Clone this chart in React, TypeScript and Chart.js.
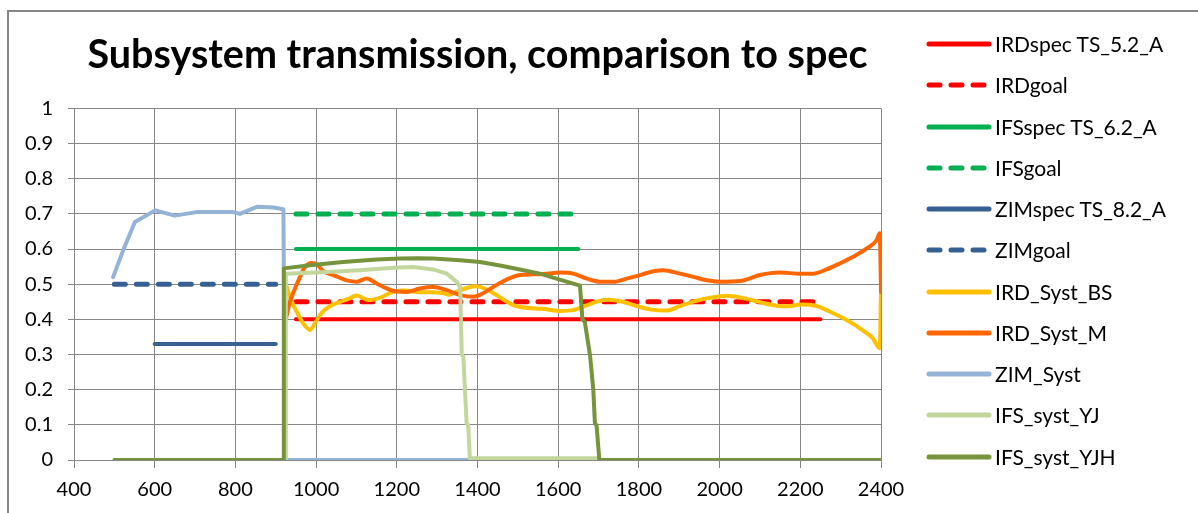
import React, { useEffect, useRef } from "react";
import { Chart, registerables } from "chart.js";
Chart.register(...registerables);

const chartTitle = "Subsystem transmission, comparison to spec";

const seriesNames = [
  "IRDspec TS_5.2_A",
  "IRDgoal",
  "IFSspec TS_6.2_A",
  "IFSgoal",
  "ZIMspec TS_8.2_A",
  "ZIMgoal",
  "IRD_Syst_BS",
  "IRD_Syst_M",
  "ZIM_Syst",
  "IFS_syst_YJ",
  "IFS_syst_YJH",
];

const xMin = 400;
const xMax = 2400;
const xStep = 200;
const yMin = 0;
const yMax = 1;
const yStep = 0.1;

const irdSpecX = [950, 2250];
const irdSpecY = [0.4, 0.4];
const irdGoalX = [950, 2250];
const irdGoalY = [0.45, 0.45];
const ifsSpecX = [950, 1650];
const ifsSpecY = [0.6, 0.6];
const ifsGoalX = [950, 1650];
const ifsGoalY = [0.7, 0.7];
const zimSpecX = [600, 900];
const zimSpecY = [0.33, 0.33];
const zimGoalX = [500, 900];
const zimGoalY = [0.5, 0.5];

const irdBsX = [925, 940, 955, 970, 985, 1000, 1015, 1035, 1060, 1080, 1100, 1130, 1160, 1190, 1220, 1250, 1280, 1310, 1330, 1355, 1375, 1395, 1420, 1440, 1465, 1490, 1520, 1560, 1604, 1640, 1670, 1700, 1725, 1760, 1800, 1836, 1869, 1900, 1940, 1980, 2018, 2060, 2100, 2140, 2170, 2200, 2240, 2275, 2315, 2355, 2380, 2397, 2400];
const irdBsY = [0.50, 0.45, 0.415, 0.385, 0.37, 0.395, 0.42, 0.438, 0.45, 0.458, 0.468, 0.455, 0.462, 0.478, 0.482, 0.478, 0.477, 0.476, 0.47, 0.482, 0.49, 0.494, 0.487, 0.474, 0.456, 0.44, 0.433, 0.43, 0.424, 0.427, 0.44, 0.452, 0.456, 0.45, 0.436, 0.427, 0.425, 0.437, 0.452, 0.462, 0.467, 0.46, 0.449, 0.439, 0.437, 0.442, 0.438, 0.421, 0.398, 0.369, 0.346, 0.318, 0.478];

const irdMX = [925, 935, 945, 958, 972, 990, 1003, 1018, 1043, 1076, 1101, 1125, 1150, 1175, 1200, 1225, 1257, 1290, 1324, 1357, 1390, 1410, 1439, 1472, 1505, 1538, 1571, 1604, 1637, 1671, 1704, 1737, 1770, 1803, 1836, 1860, 1902, 1935, 1968, 2001, 2051, 2100, 2150, 2199, 2232, 2265, 2298, 2331, 2364, 2389, 2397, 2400];
const irdMY = [0.40, 0.45, 0.48, 0.515, 0.548, 0.56, 0.555, 0.537, 0.526, 0.511, 0.507, 0.516, 0.502, 0.488, 0.479, 0.478, 0.488, 0.492, 0.483, 0.469, 0.464, 0.472, 0.492, 0.513, 0.526, 0.528, 0.53, 0.533, 0.53, 0.516, 0.507, 0.507, 0.516, 0.526, 0.537, 0.54, 0.53, 0.521, 0.511, 0.507, 0.509, 0.526, 0.533, 0.53, 0.53, 0.542, 0.559, 0.578, 0.601, 0.625, 0.645, 0.478];

const zimSystX = [497, 522, 551, 601, 650, 704, 795, 811, 853, 894, 919, 923, 1375];
const zimSystY = [0.52, 0.597, 0.677, 0.71, 0.695, 0.705, 0.705, 0.70, 0.72, 0.718, 0.713, 0, 0];

const ifsYjX = [924, 925, 1026, 1109, 1191, 1240, 1290, 1324, 1348, 1357, 1361, 1365, 1373, 1377, 1381, 1700];
const ifsYjY = [0, 0.53, 0.535, 0.54, 0.547, 0.549, 0.542, 0.53, 0.507, 0.492, 0.30, 0.293, 0.104, 0.099, 0.005, 0.005];

const ifsYjhX = [500, 918, 920, 985, 1067, 1150, 1208, 1250, 1290, 1357, 1406, 1456, 1505, 1555, 1604, 1654, 1660, 1666, 1679, 1687, 1691, 1695, 1702, 2400];
const ifsYjhY = [0, 0, 0.545, 0.554, 0.563, 0.57, 0.573, 0.574, 0.573, 0.568, 0.563, 0.553, 0.542, 0.53, 0.513, 0.496, 0.40, 0.393, 0.297, 0.2, 0.104, 0.099, 0, 0];

const seriesX = [irdSpecX, irdGoalX, ifsSpecX, ifsGoalX, zimSpecX, zimGoalX, irdBsX, irdMX, zimSystX, ifsYjX, ifsYjhX];
const seriesY = [irdSpecY, irdGoalY, ifsSpecY, ifsGoalY, zimSpecY, zimGoalY, irdBsY, irdMY, zimSystY, ifsYjY, ifsYjhY];

const seriesColors = ["#FF0000", "#FF0000", "#00B050", "#00B050", "#376092", "#376092", "#FFC000", "#FF6600", "#95B3D7", "#C3D69B", "#77933C"];
const seriesDashed = [false, true, false, true, false, true, false, false, false, false, false];
const seriesSmooth = [false, false, false, false, false, false, true, true, false, false, false];

const FONT = "Lato";
const GRID = "#868686";

export default function App() {
  const ref = useRef<HTMLCanvasElement>(null);
  useEffect(() => {
    const n = seriesNames.length;
    const datasets = seriesNames.map((name, i) => ({
      label: name,
      data: seriesX[i].map((x, k) => ({ x, y: seriesY[i][k] })),
      borderColor: seriesColors[i],
      backgroundColor: seriesColors[i],
      borderWidth: seriesDashed[i] ? 5 : 4,
      borderDash: seriesDashed[i] ? [11, 11] : [],
      borderCapStyle: "round" as const,
      borderJoinStyle: "round" as const,
      pointRadius: 0,
      fill: false,
      tension: 0,
      cubicInterpolationMode: seriesSmooth[i] ? ("monotone" as const) : ("default" as const),
      order: n - i,
    }));
    const chart = new Chart(ref.current!, {
      type: "line",
      data: { datasets },
      options: {
        animation: false,
        responsive: false,
        devicePixelRatio: 1,
        events: [],
        layout: { padding: { left: 10, right: 317, top: 10, bottom: 0 } },
        plugins: {
          legend: { display: false },
          tooltip: { enabled: false },
          title: {
            display: true,
            text: chartTitle,
            fullSize: false,
            color: "#000",
            font: { family: FONT, size: 39.5, weight: "bold" },
            padding: { top: 22, bottom: 29 },
          },
        },
        scales: {
          x: {
            type: "linear",
            min: xMin,
            max: xMax,
            afterFit: (s: any) => {
              s.height = 53;
            },
            ticks: {
              stepSize: xStep,
              autoSkip: false,
              maxRotation: 0,
              color: "#000",
              padding: 10,
              font: { family: FONT, size: 20 },
              callback: (v: any) => String(Math.round(Number(v))),
            },
            grid: { color: GRID, lineWidth: 1, tickLength: 8 },
            border: { color: GRID, width: 1 },
          },
          y: {
            type: "linear",
            min: yMin,
            max: yMax,
            afterFit: (s: any) => {
              s.width = 64;
            },
            ticks: {
              stepSize: yStep,
              color: "#000",
              padding: 15,
              font: { family: FONT, size: 20 },
              callback: (v: any) => String(Math.round(Number(v) * 10) / 10),
            },
            grid: { color: GRID, lineWidth: 1, tickLength: 6 },
            border: { color: GRID, width: 1 },
          },
        },
      },
    });
    return () => chart.destroy();
  }, []);

  return (
    <div style={{ position: "fixed", left: 0, top: 0, width: 1198, height: 513, background: "#fff", overflow: "hidden" }}>
      <div
        style={{
          position: "absolute",
          left: 7,
          top: 10,
          width: 1300,
          height: 600,
          borderTop: "2px solid #868686",
          borderLeft: "2px solid #868686",
        }}
      />
      <canvas ref={ref} width={1198} height={513} style={{ position: "absolute", left: 0, top: 0 }} />
      {seriesNames.map((name, i) => {
        const yc = 44 + i * 41.25;
        return (
          <div key={name}>
            <svg
              width={70}
              height={12}
              style={{ position: "absolute", left: 924, top: yc - 6 }}
            >
              <line
                x1={5}
                y1={6}
                x2={65}
                y2={6}
                stroke={seriesColors[i]}
                strokeWidth={5}
                strokeLinecap="round"
                strokeDasharray={seriesDashed[i] ? "11 11" : undefined}
              />
            </svg>
            <span
              style={{
                position: "absolute",
                left: 995,
                top: yc - 15,
                height: 30,
                lineHeight: "30px",
                fontFamily: FONT,
                fontSize: 21,
                color: "#000",
                whiteSpace: "nowrap",
              }}
            >
              {name}
            </span>
          </div>
        );
      })}
    </div>
  );
}
